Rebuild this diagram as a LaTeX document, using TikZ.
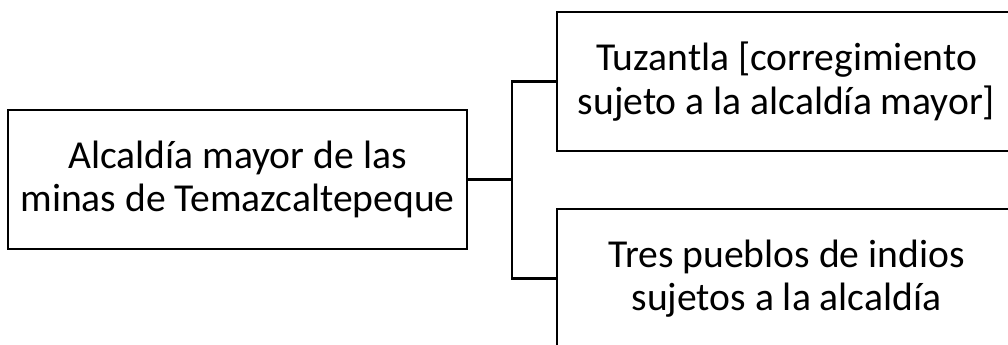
\documentclass[tikz,border=0pt]{standalone}
\usepackage{fontspec}
\setmainfont{Carlito}
\begin{document}
\begin{tikzpicture}[x=0.75pt, y=0.75pt, line width=1.6pt,
  box/.style={draw, rectangle, minimum width=344.25pt, minimum height=104.25pt,
    align=center, inner sep=0pt, font=\fontsize{29.7}{32.4}\selectfont}]
  \clip (0,0) rectangle (1008,345);
  \node[box] (Alc) at (237.5,165.5) {Alcaldía mayor de las\\minas de Temazcaltepeque};
  \node[box] (Tuz) at (786.5,263.5) {Tuzantla [corregimiento\\sujeto a la alcaldía mayor]};
  \node[box] (Tres) at (786.5,66.5) {Tres pueblos de indios\\sujetos a la alcaldía};
  \coordinate (J) at (512,165.5);

  \draw (Alc.east) -- (J);
  \draw (J) |- (Tuz.west);
  \draw (J) |- (Tres.west);
\end{tikzpicture}
\end{document}
